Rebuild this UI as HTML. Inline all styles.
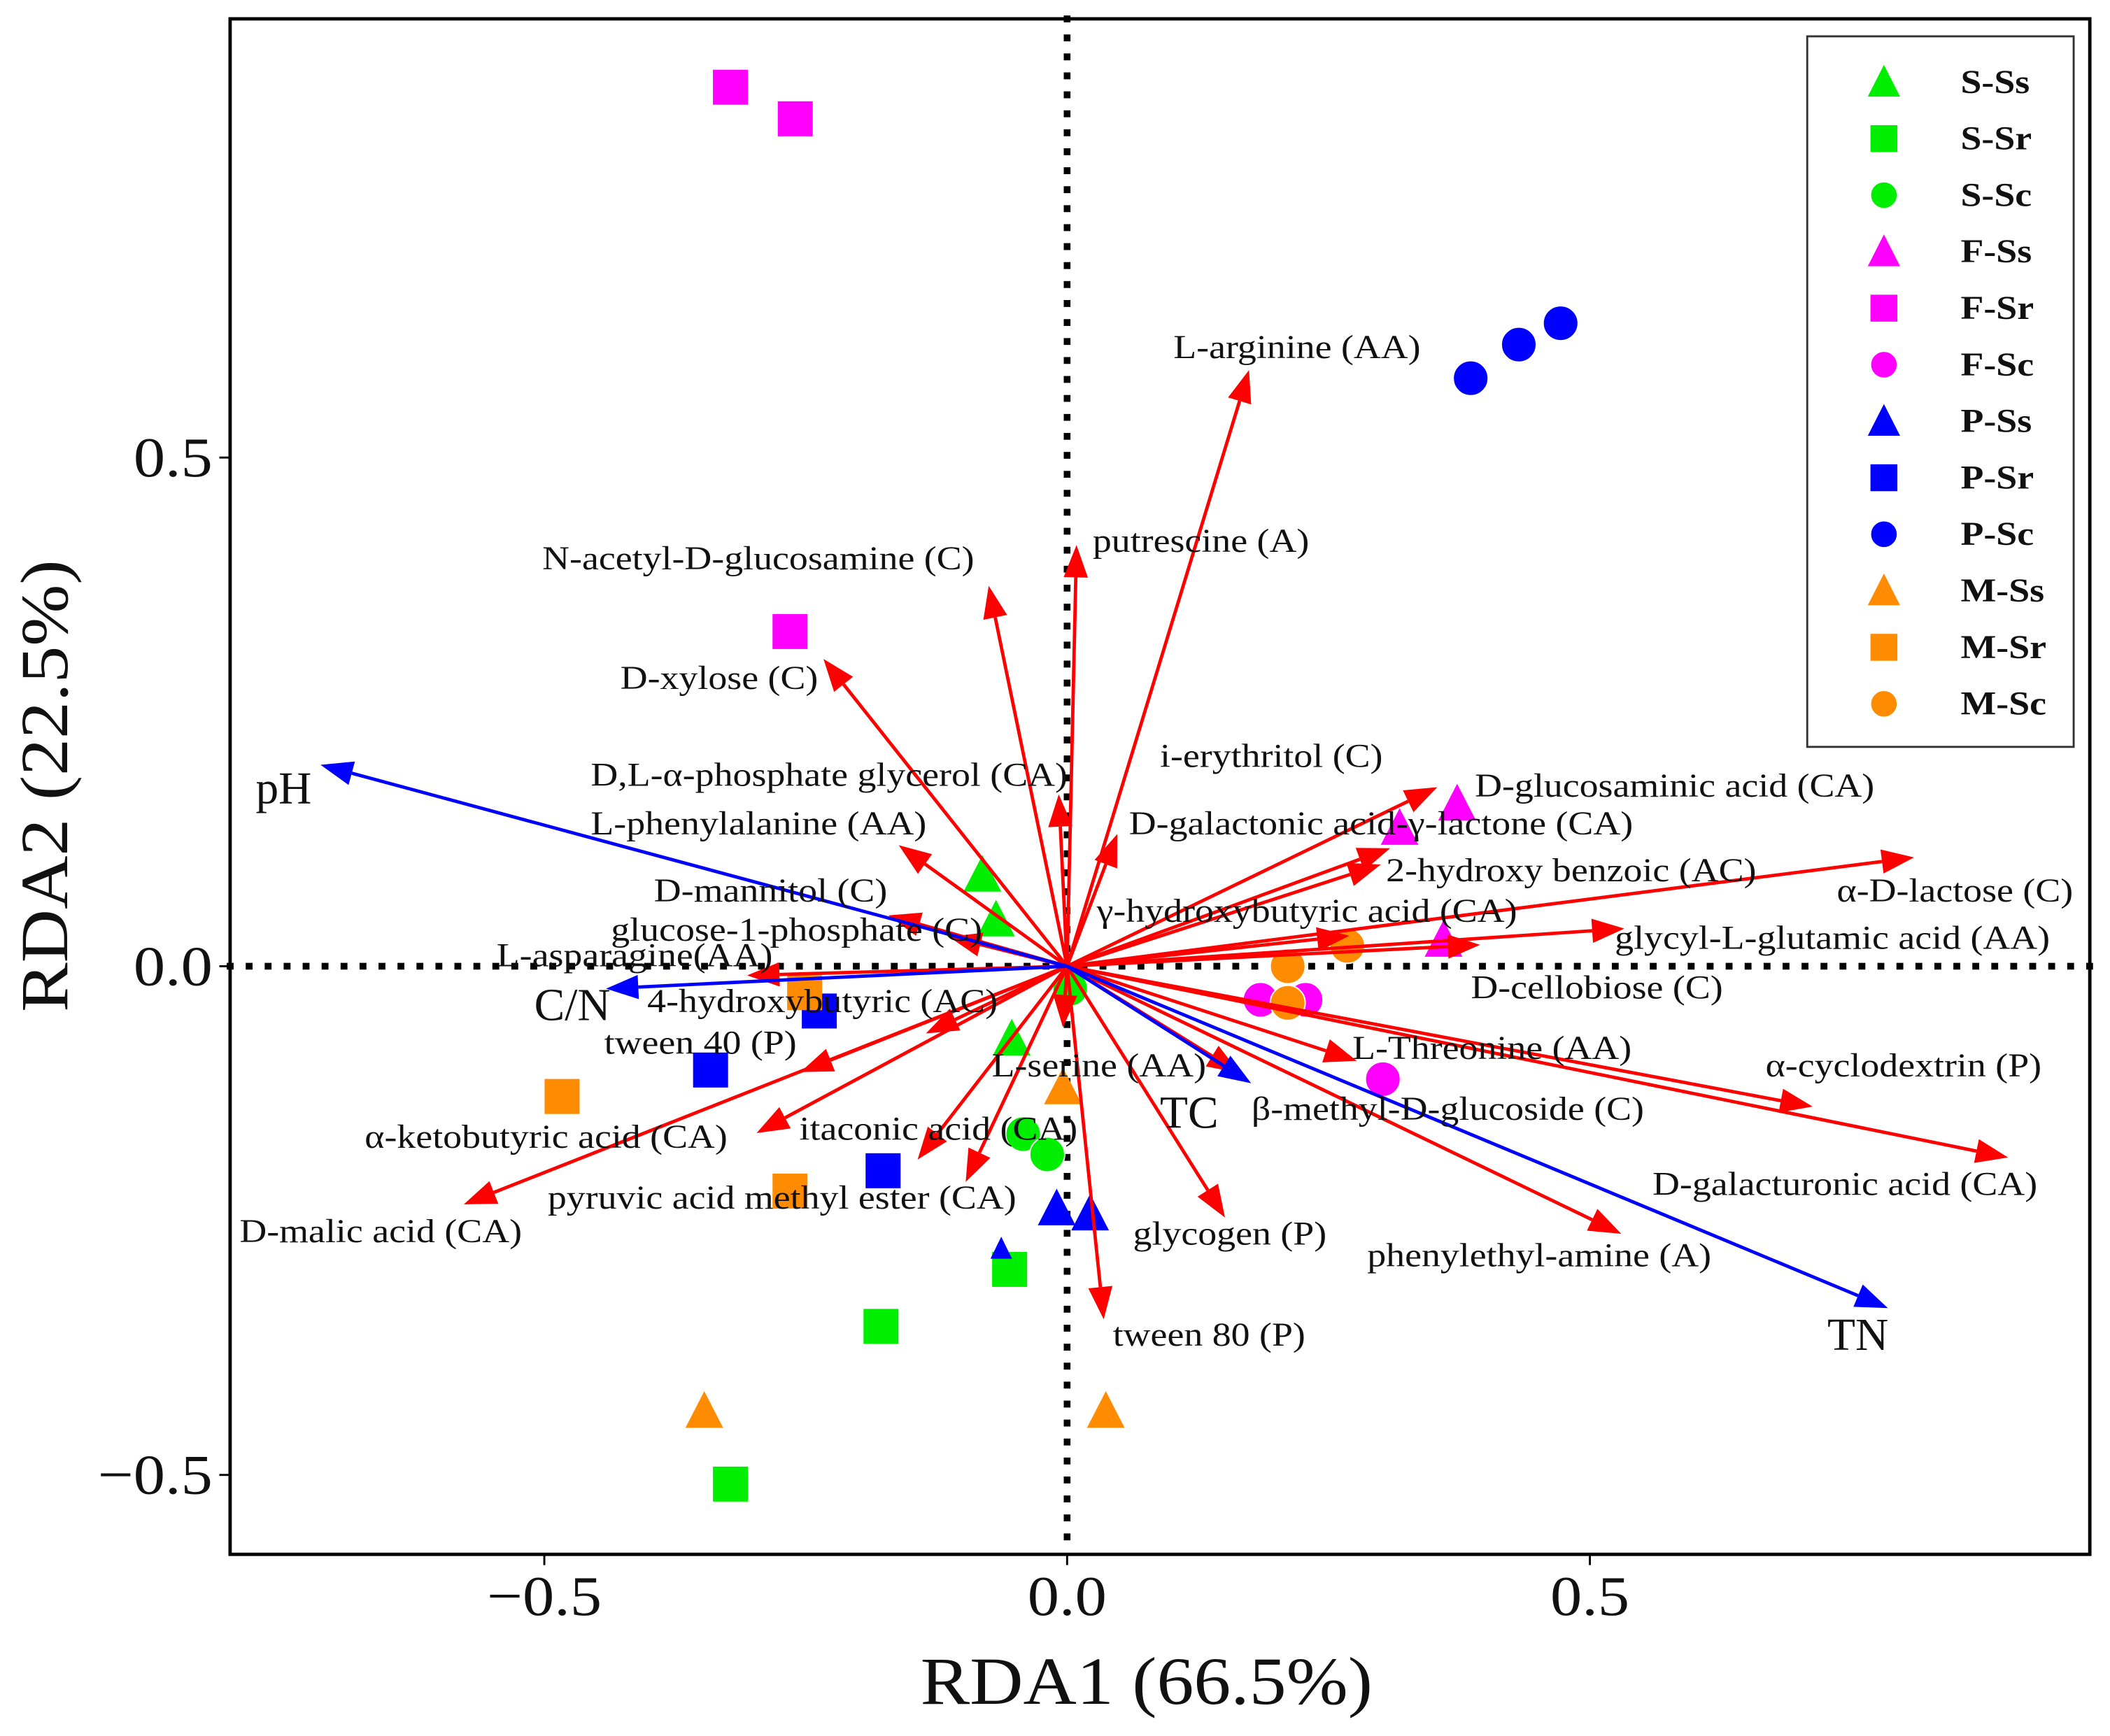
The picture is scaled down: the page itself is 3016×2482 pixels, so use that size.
<!DOCTYPE html>
<html><head><meta charset="utf-8"><style>
html,body{margin:0;padding:0;background:#fff;}
svg{display:block;}
text{font-family:"Liberation Serif",serif;}
</style></head><body>
<svg id="chart" width="3016" height="2482" viewBox="0 0 1568 1290" preserveAspectRatio="none" xmlns="http://www.w3.org/2000/svg">
<rect x="0" y="0" width="1568" height="1290" fill="#fff"/>
<g id="plot"></g>
<g id="axes"></g>
<g id="legend"></g>
</svg>
<script>
// ---- data ----
const speciesNames = ["L-arginine (AA)","putrescine (A)","N-acetyl-D-glucosamine (C)","D-xylose (C)","D,L-α-phosphate glycerol (CA)","i-erythritol (C)","L-phenylalanine (AA)","D-galactonic acid-γ-lactone (CA)","D-glucosaminic acid (CA)","2-hydroxy benzoic (AC)","α-D-lactose (C)","D-mannitol (C)","γ-hydroxybutyric acid (CA)","glucose-1-phosphate (C)","glycyl-L-glutamic acid (AA)","L-asparagine(AA)","D-cellobiose (C)","4-hydroxybutyric (AC)","tween 40 (P)","L-Threonine (AA)","L-serine (AA)","α-cyclodextrin (P)","β-methyl-D-glucoside (C)","α-ketobutyric acid (CA)","itaconic acid (CA)","D-galacturonic acid (CA)","pyruvic acid methyl ester (CA)","D-malic acid (CA)","glycogen (P)","phenylethyl-amine (A)","tween 80 (P)"];
const speciesX = [0.174,0.009,-0.075,-0.233,-0.008,0.048,-0.161,0.309,0.354,0.300,0.810,-0.171,0.270,-0.113,0.533,-0.306,0.395,-0.135,-0.255,0.277,-0.004,0.713,0.165,-0.297,-0.143,0.900,-0.097,-0.577,0.151,0.530,0.035];
const speciesY = [0.586,0.414,0.374,0.302,0.169,0.130,0.119,0.116,0.176,0.100,0.107,0.050,0.030,0.029,0.037,-0.009,0.021,-0.066,-0.104,-0.093,-0.060,-0.138,-0.105,-0.164,-0.190,-0.188,-0.212,-0.234,-0.247,-0.263,-0.347];
const labelPosX = [872,812,403,461,439,862,439,839,1096,1030,1365,486,815,454,1200,369,1093,481,449,1005,737,1312,930,271,594,1228,407,178,842,1016,827];
const labelPosY = [266,410,423,512,584,570,620,620,592,655,670,670,685,699,705,718,742,752,783,787,800,800,832,853,847,888,898,923,925,941,1000];
const envNames = ["pH","C/N","TC","TN"];
const envX = [-0.714,-0.441,0.176,0.785];
const envY = [0.198,-0.022,-0.115,-0.336];
const envLabelX = [190,397,862,1358];
const envLabelY = [597,758,838,1003];
const groups = ["S-Ss","S-Sr","S-Sc","F-Ss","F-Sr","F-Sc","P-Ss","P-Sr","P-Sc","M-Ss","M-Sr","M-Sc"];
const groupColor = ["#00ee00","#00ee00","#00ee00","#ff00ff","#ff00ff","#ff00ff","#0000ff","#0000ff","#0000ff","#ff8c00","#ff8c00","#ff8c00"];
const groupShape = ["tri","sq","circ","tri","sq","circ","tri","sq","circ","tri","sq","circ"];
const siteX = [[-0.081,-0.068,-0.053],[-0.055,-0.178,-0.322],[0.003,-0.042,-0.019],[0.373,0.318,0.360],[-0.322,-0.260,-0.265],[0.185,0.228,0.302],[-0.010,0.022,-0.063],[-0.237,-0.341,-0.176],[0.386,0.432,0.472],[-0.004,-0.347,0.037],[-0.483,-0.265,-0.251],[0.211,0.268,0.211]];
const siteY = [[0.090,0.046,-0.071],[-0.298,-0.354,-0.509],[-0.022,-0.165,-0.185],[0.160,0.136,0.026],[0.864,0.833,0.329],[-0.033,-0.033,-0.111],[-0.238,-0.243,-0.278],[-0.044,-0.102,-0.201],[0.578,0.611,0.632],[-0.119,-0.437,-0.437],[-0.128,-0.221,-0.026],[0.000,0.020,-0.036]];
const xTicks = [-0.5,0.0,0.5];
const yTicks = [0.5,0.0,-0.5];
const xTickLabels = ["−0.5","0.0","0.5"];
const yTickLabels = ["0.5","0.0","−0.5"];

// ---- scales ----
const X0=793, XS=777, Y0=718, YS=756;
function sx(v){return X0+v*XS;}
function sy(v){return Y0-v*YS;}
const NS="http://www.w3.org/2000/svg";
function mk(tag,attrs,parent){const e=document.createElementNS(NS,tag);for(const k in attrs)e.setAttribute(k,attrs[k]);parent.appendChild(e);return e;}
function stretch(t,f){const w=t.getComputedTextLength();if(w>0){t.setAttribute('textLength',w*f);t.setAttribute('lengthAdjust','spacingAndGlyphs');}}
const plot=document.getElementById('plot'), axes=document.getElementById('axes'), legend=document.getElementById('legend');

let zl=mk('line',{x1:171,x2:1553,y1:Y0,y2:Y0,stroke:'#000','stroke-width':5,'stroke-dasharray':'0.1 14','stroke-linecap':'square'},plot);


let zv=mk('line',{x1:X0,x2:X0,y1:14,y2:1154,stroke:'#000','stroke-width':5,'stroke-dasharray':'0.1 14','stroke-linecap':'square'},plot);



function arrow(x,y,color,w,name){
  const tx=sx(x),ty=sy(y);const dx=tx-X0,dy=ty-Y0;const L=Math.hypot(dx,dy);const ux=dx/L,uy=dy/L;
  const hl=24,hw=9;const bx=tx-ux*hl,by=ty-uy*hl;
  const g=mk('g',{},plot);
  
  
  mk('line',{x1:X0,y1:Y0,x2:bx,y2:by,stroke:color,'stroke-width':w},g);
  mk('polygon',{points:`${tx},${ty} ${bx-uy*hw},${by+ux*hw} ${bx+uy*hw},${by-ux*hw}`,fill:color},g);
}
function marker(shape,cx,cy,color,s,parent){
  if(shape==='sq') return mk('rect',{x:cx-s/2,y:cy-s/2,width:s,height:s,fill:color},parent);
  if(shape==='circ') return mk('circle',{cx:cx,cy:cy,r:s/2,fill:color,stroke:'#fff','stroke-width':1},parent);
  const h=s*0.9;return mk('polygon',{points:`${cx},${cy-h/2-2} ${cx-s/2},${cy+h/2} ${cx+s/2},${cy+h/2}`,fill:color},parent);
}

for(let g=0;g<groups.length;g++){
  for(let i=0;i<siteX[g].length;i++){
    let size=groupShape[g]==='tri'?28:26;
    if(g===6&&i===2) size=16;
    const m=marker(groupShape[g],sx(siteX[g][i]),sy(siteY[g][i]),groupColor[g],size,plot);
    
    
  }
}
for(let i=0;i<speciesNames.length;i++){
  arrow(speciesX[i],speciesY[i],'#ff0000',2.5,'species-arrow-'+(i+1));
}
for(let i=0;i<envNames.length;i++){
  arrow(envX[i],envY[i],'#0000ff',2.5,'env-arrow-'+envNames[i].toLowerCase().replace('/',''));
}
for(let i=0;i<speciesNames.length;i++){
  const t=mk('text',{x:labelPosX[i],y:labelPosY[i],'font-size':25,fill:'#111'},plot);
  t.textContent=speciesNames[i];
  
  
  stretch(t,1.12);
}
for(let i=0;i<envNames.length;i++){
  const t=mk('text',{x:envLabelX[i],y:envLabelY[i],'font-size':34,fill:'#111'},plot);
  t.textContent=envNames[i];
  
  
}
let fr=mk('rect',{x:171,y:14,width:1382,height:1141,fill:'none',stroke:'#000','stroke-width':2.5},axes);


for(let i=0;i<xTicks.length;i++){
  const x=sx(xTicks[i]);
  mk('line',{x1:x,x2:x,y1:1155,y2:1163,stroke:'#000','stroke-width':1.5},axes);
  const t=mk('text',{x:x,y:1200,'font-size':42,'text-anchor':'middle',fill:'#111'},axes);
  t.textContent=xTickLabels[i];
  
  
  stretch(t,1.12);
}
for(let i=0;i<yTicks.length;i++){
  const y=sy(yTicks[i]);
  mk('line',{x1:163,x2:171,y1:y,y2:y,stroke:'#000','stroke-width':1.5},axes);
  const t=mk('text',{x:158,y:y+14,'font-size':42,'text-anchor':'end',fill:'#111'},axes);
  t.textContent=yTickLabels[i];
  
  
  stretch(t,1.12);
}
let xt=mk('text',{x:852,y:1266,'font-size':50,'text-anchor':'middle',fill:'#111'},axes);
xt.textContent='RDA1 (66.5%)';


stretch(xt,1.1);
let yt=mk('text',{x:0,y:0,'font-size':50,'text-anchor':'middle',fill:'#111',transform:'translate(50,584) rotate(-90)'},axes);
yt.textContent='RDA2 (22.5%)';


stretch(yt,1.1);
let lb=mk('rect',{x:1343,y:27,width:198,height:528,fill:'#fff',stroke:'#333','stroke-width':1.5},legend);


for(let g=0;g<groups.length;g++){
  const y=61+g*42;
  const gg=mk('g',{},legend);
  
  
  marker(groupShape[g],1400,y,groupColor[g],groupShape[g]==='tri'?24:20,gg);
  const t=mk('text',{x:1457,y:y+8,'font-size':25,'font-weight':'bold',fill:'#111'},gg);
  t.textContent=groups[g];
  stretch(t,1.12);
}
</script>
</body></html>
